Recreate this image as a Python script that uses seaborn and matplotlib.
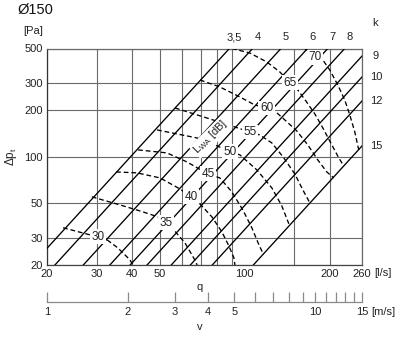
import numpy as np
import pandas as pd
import matplotlib
matplotlib.use("Agg")
import matplotlib.pyplot as plt
import seaborn as sns
from matplotlib.ticker import NullFormatter, NullLocator

# ---------------- data ----------------
k_values = [3.5, 4, 5, 6, 7, 8, 9, 10, 12, 15]
k_labels = ["3,5", "4", "5", "6", "7", "8", "9", "10", "12", "15"]
k_q_at_100pa = [39.5, 47.7, 60.1, 74.6, 88.0, 101.0, 123.0, 143.7, 171.8, 240.0]
k_label_top = [True, True, True, True, True, True, False, False, False, False]

lwa_levels = [30, 35, 40, 45, 50, 55, 60, 65, 70]
q_30 = [22.8, 28.4, 30.3, 32.1, 35.6, 39.3, 40.2]
dp_30 = [34.8, 31.3, 30.4, 29.7, 25.8, 21.6, 20.0]
q_35 = [28.8, 36.2, 42.6, 49.4, 52.7, 55.3, 61.5, 67.2, 67.9]
dp_35 = [55.1, 48.9, 44.7, 40.9, 37.6, 34.8, 27.8, 21.0, 20.0]
q_40 = [35.1, 41.6, 50.2, 59.0, 64.6, 69.5, 76.6, 83.1, 87.9, 91.6, 92.4]
dp_40 = [79.8, 78.7, 73.0, 62.0, 55.1, 49.6, 40.9, 32.7, 26.6, 22.3, 20.0]
q_45 = [42.0, 53.1, 62.5, 74.1, 81.7, 90.1, 98.5, 106.0, 112.3, 116.6]
dp_45 = [110.7, 105.9, 92.6, 77.5, 73.0, 59.3, 45.4, 34.8, 27.0, 23.4]
q_50 = [49.0, 67.8, 78.5, 88.7, 96.2, 110.4, 124.8, 135.3, 143.3]
dp_50 = [149.0, 132.3, 119.3, 107.5, 102.8, 82.3, 62.9, 48.2, 36.9]
q_55 = [56.7, 73.5, 92.3, 104.3, 113.1, 124.8, 137.6, 150.4, 160.6, 170.0]
dp_55 = [206.6, 178.0, 155.7, 144.6, 138.3, 122.8, 98.3, 77.5, 61.1, 50.4]
q_60 = [69.5, 81.7, 96.2, 108.6, 119.5, 128.9, 138.7, 152.9, 167.2, 181.4, 195.2, 206.5]
dp_60 = [313.2, 282.3, 243.2, 215.9, 206.4, 194.7, 172.9, 146.8, 119.3, 95.4, 79.8, 73.0]
q_65 = [90.1, 104.3, 119.8, 133.2, 145.0, 154.1, 164.6, 177.1, 189.0, 201.6, 215.2, 224.2]
dp_65 = [500.0, 467.7, 409.1, 352.7, 300.0, 269.9, 229.3, 189.0, 153.5, 122.8, 98.3, 87.3]
q_70 = [163.3, 177.8, 189.0, 200.0, 213.5, 225.9, 235.4, 245.2, 253.2]
dp_70 = [500.0, 440.0, 421.5, 363.3, 290.7, 232.7, 186.2, 144.6, 110.7]
lwa_q = [q_30, q_35, q_40, q_45, q_50, q_55, q_60, q_65, q_70]
lwa_dp = [dp_30, dp_35, dp_40, dp_45, dp_50, dp_55, dp_60, dp_65, dp_70]
lwa_label_q = [30.35, 52.7, 64.6, 74.1, 88.7, 104.3, 119.5, 145.0, 177.8]
lwa_label_dp = [30.4, 37.6, 55.1, 77.5, 107.5, 144.6, 206.4, 300.0, 440.0]

q_ticks = [20, 30, 40, 50, 100, 200, 260]
q_gridlines = [20, 30, 40, 50, 60, 70, 80, 90, 150, 200, 260]
dp_ticks = [20, 30, 50, 100, 200, 300, 500]
v_ticks = [1, 2, 3, 4, 5, 6, 7, 8, 9, 10, 11, 12, 13, 14, 15]
v_ticklabels = ["1", "2", "3", "4", "5", "", "", "", "", "10", "", "", "", "", "15"]

# ---------------- style ----------------
sns.set_theme(style="white")
plt.rcParams["font.family"] = ["Liberation Sans", "DejaVu Sans"]
plt.rcParams["mathtext.fontset"] = "custom"
plt.rcParams["mathtext.rm"] = "Liberation Sans"
TXT = "#222222"
GRID = "#6a6a6a"
FS = 8

W, H = 400, 345
fig = plt.figure(figsize=(W / 100, H / 100), dpi=100)
fig.patch.set_facecolor("white")
x0, x1, y0, y1 = 47, 362, 48.5, 265
ax = fig.add_axes([x0 / W, 1 - y1 / H, (x1 - x0) / W, (y1 - y0) / H])
ax.set_xscale("log")
ax.set_yscale("log")
ax.set_xlim(20, 260)
ax.set_ylim(20, 500)

# k lines (resistance lines dp ~ q^2)
rows = []
for k, q100 in zip(k_values, k_q_at_100pa):
    for q in (q100 * np.sqrt(0.15), q100 * np.sqrt(6.0)):
        rows.append({"k": k, "q": q, "dp": 100 * (q / q100) ** 2})
df_k = pd.DataFrame(rows)
sns.lineplot(data=df_k, x="q", y="dp", units="k", estimator=None, sort=False,
             color="black", linewidth=0.95, ax=ax, legend=False, zorder=3)

# sound power curves
rows = []
for lev, qs, dps in zip(lwa_levels, lwa_q, lwa_dp):
    for i, (q, dp) in enumerate(zip(qs, dps)):
        rows.append({"level": lev, "i": i, "q": q, "dp": dp})
df_l = pd.DataFrame(rows)
sns.lineplot(data=df_l, x="q", y="dp", units="level", estimator=None, sort=False,
             color="black", linewidth=0.95, linestyle=(0, (3.6, 2.2)),
             ax=ax, legend=False, zorder=3)

for lev, q, dp in zip(lwa_levels, lwa_label_q, lwa_label_dp):
    ax.text(q, dp, str(lev), fontsize=FS + 0.5, color=TXT, ha="center", va="center",
            zorder=6, bbox=dict(boxstyle="square,pad=0.12", fc="white", ec="none"))

ax.text(75.9, 134.0, r"$\mathregular{L_{WA}}$ [dB]", fontsize=FS, color=TXT,
        rotation=45, rotation_mode="anchor", ha="center", va="center", zorder=6,
        bbox=dict(boxstyle="square,pad=0.1", fc="white", ec="none"))

# k labels
for lab, q100, top in zip(k_labels, k_q_at_100pa, k_label_top):
    if top:
        qt = q100 * np.sqrt(5.0)
        ax.annotate(lab, xy=(qt, 500), xytext=(3.5, 8), textcoords="offset points",
                    ha="center", va="center", fontsize=FS, color=TXT,
                    annotation_clip=False)
    else:
        dpr = 100 * (260 / q100) ** 2
        ax.annotate(lab, xy=(260, dpr), xytext=(10, 0), textcoords="offset points",
                    ha="center", va="center", fontsize=FS, color=TXT,
                    annotation_clip=False)

# grid & ticks
ax.xaxis.remove_overlapping_locs = False
ax.set_xticks(q_ticks, labels=[str(t) for t in q_ticks])
ax.set_xticks(q_gridlines, minor=True)
ax.xaxis.set_minor_formatter(NullFormatter())
ax.set_yticks(dp_ticks, labels=[str(t) for t in dp_ticks])
ax.yaxis.set_minor_locator(NullLocator())
ax.grid(False)
ax.xaxis.grid(True, which="minor", color=GRID, linewidth=0.8)
ax.yaxis.grid(True, which="major", color=GRID, linewidth=0.8)
ax.set_axisbelow(True)
ax.tick_params(axis="both", which="both", length=0, labelsize=FS, colors=TXT, pad=3)
for s in ax.spines.values():
    s.set_color(GRID)
    s.set_linewidth(0.9)
ax.spines["left"].set_color("#333333")
ax.spines["bottom"].set_color("#444444")
ax.set_xlabel("")
ax.set_ylabel("")

# velocity axis
axv = fig.add_axes([x0 / W, 1 - 301.5 / H, (x1 - x0) / W, 0.0001])
axv.set_xscale("log")
axv.set_xlim(1, 15)
axv.set_xticks(v_ticks, labels=v_ticklabels)
axv.xaxis.set_minor_locator(NullLocator())
axv.yaxis.set_visible(False)
axv.patch.set_visible(False)
for name, s in axv.spines.items():
    s.set_visible(name == "bottom")
axv.spines["bottom"].set_color("#8a8a8a")
axv.spines["bottom"].set_linewidth(0.9)
axv.tick_params(axis="x", which="major", bottom=True, direction="in", length=7.5,
                width=0.9, color="#8a8a8a", labelsize=FS, labelcolor=TXT, pad=4)

# texts
fig.text(17 / W, 1 - 9.5 / H, "Ø150", fontsize=10.5, color="#111111", ha="left", va="center")
fig.text(43 / W, 1 - 31.5 / H, "[Pa]", fontsize=FS, color=TXT, ha="right", va="center")
fig.text(11 / W, 1 - 157 / H, r"$\mathregular{\Delta p_t}$", fontsize=FS + 0.5, color=TXT,
         ha="center", va="center", rotation=90)
fig.text(375 / W, 1 - 23 / H, "k", fontsize=FS, color=TXT, ha="center", va="center")
fig.text(374 / W, 1 - 273 / H, "[l/s]", fontsize=FS, color=TXT, ha="left", va="center")
fig.text(200 / W, 1 - 286.5 / H, "q", fontsize=FS, color=TXT, ha="center", va="center")
fig.text(371 / W, 1 - 312 / H, "[m/s]", fontsize=FS, color=TXT, ha="left", va="center")
fig.text(200 / W, 1 - 327.5 / H, "v", fontsize=FS, color=TXT, ha="center", va="center")

fig.savefig("out.png", dpi=100, facecolor="white")
